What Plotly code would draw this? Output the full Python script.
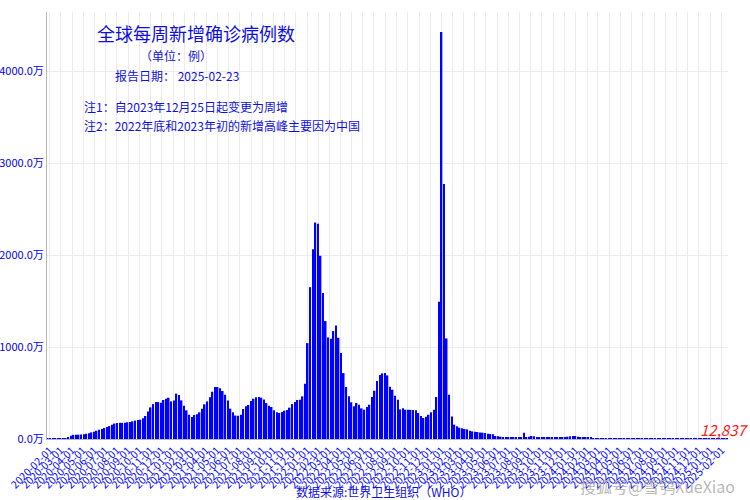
import pandas as pd
import plotly.graph_objects as go

# Weekly new confirmed cases worldwide, in units of 万 (10,000 cases), week dates starting 2020-01-26
weekly_cases_wan = [
    0.3, 1.5, 2.2, 3.0, 1.2, 1.0, 3, 8, 20, 35,
    45, 47, 47, 49, 52, 57, 63, 72, 80, 90,
    100, 110, 120, 130, 140, 155, 168, 175, 176, 176,
    178, 182, 186, 192, 200, 206, 210, 225, 250, 300,
    344, 380, 402, 402, 395, 424, 438, 449, 409, 420,
    493, 478, 420, 362, 312, 264, 239, 261, 268, 290,
    330, 377, 409, 453, 514, 565, 565, 551, 522, 482,
    420, 330, 290, 255, 254, 265, 326, 355, 370, 413,
    438, 453, 457, 449, 431, 391, 362, 348, 312, 290,
    283, 293, 308, 315, 341, 380, 402, 424, 428, 464,
    601, 1043, 1652, 2065, 2355, 2341, 1993, 1587, 1283, 1105,
    1091, 1174, 1236, 1101, 935, 717, 565, 464, 399, 355,
    391, 373, 333, 319, 348, 373, 457, 525, 630, 696,
    714, 717, 692, 569, 536, 471, 426, 322, 335, 319,
    317, 317, 315, 312, 283, 250, 228, 242, 264, 290,
    319, 457, 1493, 4428, 2775, 1094, 482, 246, 156, 138,
    123, 116, 109, 105, 91, 83, 80, 76, 72, 69,
    65, 58, 54, 51, 33, 29, 25, 22, 18, 14,
    14, 14, 18, 18, 22, 69, 14, 25, 33, 29,
    18, 14, 14, 14, 13, 13, 14, 15, 18, 18,
    22, 22, 25, 29, 33, 33, 25, 22, 18, 18,
    14, 11, 10, 8, 7, 6.5, 6, 5.5, 5, 5,
    4.5, 4.5, 4, 4, 4, 4, 4, 4.5, 5, 5.5,
    6, 7, 7.5, 8, 8.5, 9, 9, 8.5, 8, 7.5,
    7, 6.5, 6, 5.5, 5, 4.5, 4.5, 4, 4, 3.5,
    3.5, 3.5, 3, 3, 3, 3, 3, 3.5, 3.5, 3,
    2.5, 2.5, 2, 2, 1.2837,
]
first_week = "2020-01-26"
week_dates = pd.date_range(first_week, periods=len(weekly_cases_wan), freq="7D")

y_tick_values = [0, 1000, 2000, 3000, 4000]
y_tick_labels = ["0.0万", "1000.0万", "2000.0万", "3000.0万", "4000.0万"]
x_tick_dates = pd.date_range("2020-02-01", "2025-02-01", freq="MS")
x_tick_labels = [d.strftime("%Y-%m-%d") for d in x_tick_dates]

title_text = "全球每周新增确诊病例数"
unit_text = "（单位：例）"
report_text = "报告日期： 2025-02-23"
note1_text = "注1：自2023年12月25日起变更为周增"
note2_text = "注2：2022年底和2023年初的新增高峰主要因为中国"
source_text = "数据来源:世界卫生组织（WHO）"
watermark_text = "搜狐号@雪鸮XueXiao"

FONT = "Noto Sans CJK SC"
BLUE = "#0000ff"
TXT = "#1010dd"

W, H = 750, 500
L, R, T, B = 47, 22, 12, 61
PW, PH = W - L - R, H - T - B


def px(xp):
    return (xp - L) / PW


def py(yp):
    return (H - B - yp) / PH


fig = go.Figure()
fig.add_trace(go.Bar(
    x=week_dates, y=weekly_cases_wan,
    marker=dict(color=BLUE, line=dict(width=0)),
    width=4.2 * 86400000,
    showlegend=False,
))

last_val = weekly_cases_wan[-1]
annotations = [
    dict(x=week_dates[-1], y=last_val, xref="x", yref="y",
         text=f"<i>{round(last_val * 10000):,}</i>", showarrow=False,
         font=dict(family=FONT, size=15, color="#ff1a1a"),
         xanchor="right", yanchor="bottom", xshift=23, yshift=-3),
    dict(x=px(196), y=py(33), text=title_text, font=dict(family=FONT, size=18, color=TXT)),
    dict(x=px(138), y=py(55), text=unit_text, xanchor="left", font=dict(family=FONT, size=12, color=TXT)),
    dict(x=px(113), y=py(75), text=report_text, xanchor="left", font=dict(family=FONT, size=12, color=TXT)),
    dict(x=px(82), y=py(106), text=note1_text, xanchor="left", font=dict(family=FONT, size=12, color=TXT)),
    dict(x=px(82), y=py(126), text=note2_text, xanchor="left", font=dict(family=FONT, size=12, color=TXT)),
    dict(x=px(384), y=py(492), text=source_text, font=dict(family=FONT, size=12, color=TXT)),
    dict(x=px(657), y=py(486), text=watermark_text, font=dict(family=FONT, size=16, color="rgba(165,165,165,0.8)")),
]
for a in annotations[1:]:
    a.setdefault("xref", "paper")
    a.setdefault("yref", "paper")
    a.setdefault("showarrow", False)
    a.setdefault("xanchor", "center")
    a.setdefault("yanchor", "middle")

fig.update_layout(
    width=W, height=H,
    margin=dict(l=L, r=R, t=T, b=B, pad=0, autoexpand=False),
    plot_bgcolor="white", paper_bgcolor="white",
    annotations=annotations,
    font=dict(family=FONT, color=TXT),
    xaxis=dict(
        type="date", range=["2020-01-24", "2025-02-18"],
        tickvals=list(x_tick_dates), ticktext=x_tick_labels,
        tickangle=-45, tickfont=dict(family=FONT, size=10.5, color=BLUE),
        showgrid=True, gridcolor="#ececec", gridwidth=1,
        showline=True, linecolor="#b8b8b8", linewidth=1,
        zeroline=False, ticks="", automargin=False,
    ),
    yaxis=dict(
        range=[0, 4645],
        tickvals=y_tick_values, ticktext=y_tick_labels,
        tickfont=dict(family=FONT, size=11, color=BLUE),
        showgrid=True, gridcolor="#ececec", gridwidth=1,
        showline=True, linecolor="#b8b8b8", linewidth=1,
        zeroline=False, ticks="", automargin=False,
    ),
)

fig.write_html(
    "out.html",
    config={"displayModeBar": False},
    post_script="document.body.style.margin='0';document.body.style.padding='0';",
)
